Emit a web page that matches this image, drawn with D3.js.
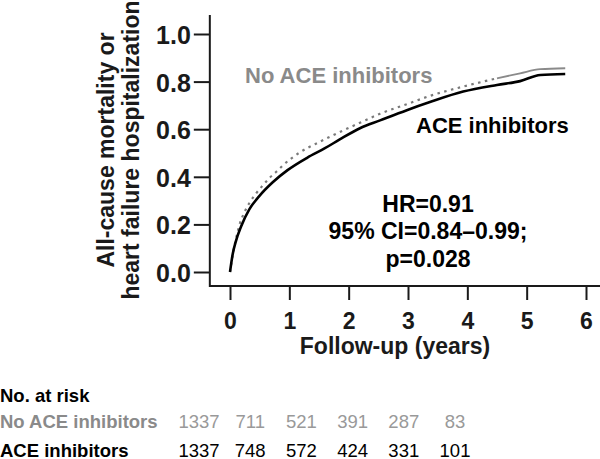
<!DOCTYPE html>
<html>
<head>
<meta charset="utf-8">
<script src="https://cdn.jsdelivr.net/npm/d3@7"></script>
<style>
  html, body { margin: 0; padding: 0; background: #fff; }
  svg { display: block; font-family: "Liberation Sans", Arial, sans-serif; }
</style>
</head>
<body>
<div id="chart"></div>
<script>
// Kaplan-Meier style cumulative incidence
const aceYears = [0, 0.045, 0.1, 0.185, 0.33, 0.49, 0.72, 0.97, 1.3, 1.6, 1.85, 2.19, 2.53, 2.98, 3.37, 3.93, 4.5, 4.89, 5.23, 5.65];
const aceValues = [0, 0.075, 0.13, 0.19, 0.265, 0.318, 0.377, 0.428, 0.48, 0.52, 0.557, 0.604, 0.637, 0.68, 0.714, 0.758, 0.786, 0.802, 0.828, 0.832];

const noAceYears = [0, 0.06, 0.13, 0.17, 0.24, 0.33, 0.44, 0.55, 0.66, 0.78, 0.9, 1.18, 1.52, 1.85, 2.19, 2.53, 2.98, 3.37, 3.93, 4.5, 4.89, 5.23, 5.65];
const noAceValues = [0, 0.09, 0.17, 0.207, 0.249, 0.291, 0.33, 0.363, 0.394, 0.421, 0.45, 0.503, 0.548, 0.588, 0.627, 0.665, 0.705, 0.74, 0.779, 0.814, 0.835, 0.852, 0.856];

const xTicks = [0, 1, 2, 3, 4, 5, 6];
const yTicks = [0, 0.2, 0.4, 0.6, 0.8, 1.0];

// numbers at risk
const riskYears = [0, 1, 2, 3, 4, 5];
const riskNoAce = [1337, 711, 521, 391, 287, 83];
const riskAce = [1337, 748, 572, 424, 331, 101];
const riskRows = ["No ACE inhibitors", "ACE inhibitors"];

const statLines = ["HR=0.91", "95% CI=0.84\u20130.99;", "p=0.028"];

const width = 600, height = 459;
const dark = "#1a1a1a", grey = "#8a8a8a";

const svg = d3.select("#chart").append("svg")
  .attr("width", width)
  .attr("height", height);

const x = d3.scaleLinear().domain([0, 6]).range([230, 586]);
const y = d3.scaleLinear().domain([0, 1]).range([272, 34]);

// axis frame (L shape, offset from the zero ticks)
svg.append("line")
  .attr("x1", x(-0.34)).attr("x2", width)
  .attr("y1", 286).attr("y2", 286)
  .attr("stroke", dark).attr("stroke-width", 2);
svg.append("line")
  .attr("x1", x(-0.34)).attr("x2", x(-0.34))
  .attr("y1", y(1.08)).attr("y2", 287)
  .attr("stroke", dark).attr("stroke-width", 2);

const yAxis = svg.append("g")
  .attr("transform", `translate(${x(-0.34)},0)`)
  .call(d3.axisLeft(y).tickValues(yTicks).tickFormat(d3.format(".1f"))
    .tickSize(16).tickPadding(3).tickSizeOuter(0));
yAxis.select(".domain").remove();
yAxis.selectAll(".tick line").attr("stroke", dark).attr("stroke-width", 2);
yAxis.selectAll(".tick text")
  .attr("fill", dark)
  .attr("dy", "0.38em")
  .style("font-size", "25px")
  .style("font-weight", "bold")
  .style("font-family", "'Liberation Sans', Arial, sans-serif");

const xAxis = svg.append("g")
  .attr("transform", "translate(0,286)")
  .call(d3.axisBottom(x).tickValues(xTicks).tickFormat(d3.format("d"))
    .tickSize(14).tickPadding(13).tickSizeOuter(0));
xAxis.select(".domain").remove();
xAxis.selectAll(".tick line").attr("stroke", dark).attr("stroke-width", 2);
xAxis.selectAll(".tick text")
  .attr("fill", dark)
  .style("font-size", "23px")
  .style("font-weight", "bold")
  .style("font-family", "'Liberation Sans', Arial, sans-serif");

// axis titles
svg.append("text")
  .attr("x", 395).attr("y", 354)
  .attr("text-anchor", "middle")
  .attr("fill", dark)
  .style("font-size", "23px").style("font-weight", "bold")
  .text("Follow-up (years)");

const yTitle = ["All-cause mortality or", "heart failure hospitalization"];
svg.selectAll(".ytitle")
  .data(yTitle)
  .enter().append("text")
  .attr("class", "ytitle")
  .attr("transform", (d, i) => `translate(${113.5 + i * 25},150) rotate(-90)`)
  .attr("text-anchor", "middle")
  .attr("fill", dark)
  .style("font-size", "23px").style("font-weight", "bold")
  .text(d => d);

// curves
const line = d3.line()
  .x(d => x(d[0]))
  .y(d => y(d[1]))
  .curve(d3.curveMonotoneX);

const noAce = noAceYears.map((t, i) => [t, noAceValues[i]]);
const ace = aceYears.map((t, i) => [t, aceValues[i]]);

// grey curve is dotted for most of follow-up, then runs as a thin solid line
svg.append("path")
  .attr("d", line(noAce.filter(d => d[0] <= 4.5)))
  .attr("fill", "none")
  .attr("stroke", "#7a7a7a")
  .attr("stroke-width", 2.2)
  .attr("stroke-dasharray", "2.5,4.5");
svg.append("path")
  .attr("d", line(noAce.filter(d => d[0] >= 4.5)))
  .attr("fill", "none")
  .attr("stroke", "#8a8a8a")
  .attr("stroke-width", 1.8);

svg.append("path")
  .attr("d", line(ace))
  .attr("fill", "none")
  .attr("stroke", "#000")
  .attr("stroke-width", 2.6);

// curve labels
svg.append("text")
  .attr("x", 245).attr("y", 83)
  .attr("fill", grey)
  .style("font-size", "22px").style("font-weight", "bold")
  .text("No ACE inhibitors");
svg.append("text")
  .attr("x", 416).attr("y", 133)
  .attr("fill", "#000")
  .style("font-size", "22px").style("font-weight", "bold")
  .text("ACE inhibitors");

// hazard ratio block
svg.selectAll(".stat")
  .data(statLines)
  .enter().append("text")
  .attr("class", "stat")
  .attr("x", 428)
  .attr("y", (d, i) => 211.5 + i * 27.5)
  .attr("text-anchor", "middle")
  .attr("fill", "#000")
  .style("font-size", "23px").style("font-weight", "bold")
  .text(d => d);

// number at risk table
const col = d3.scalePoint().domain(riskYears).range([199, 455]);
const rowY = [428, 456.5];
const rowColors = [grey, "#000"];
const numColors = ["#999", "#000"];

svg.append("text")
  .attr("x", 0).attr("y", 401.5)
  .attr("fill", "#000")
  .style("font-size", "18.5px").style("font-weight", "bold")
  .text("No. at risk");

riskRows.forEach((label, r) => {
  svg.append("text")
    .attr("x", 0).attr("y", rowY[r])
    .attr("fill", rowColors[r])
    .style("font-size", "18.5px").style("font-weight", "bold")
    .text(label);
  const vals = r === 0 ? riskNoAce : riskAce;
  svg.selectAll(".risk" + r)
    .data(riskYears)
    .enter().append("text")
    .attr("class", "risk" + r)
    .attr("x", d => col(d))
    .attr("y", rowY[r])
    .attr("text-anchor", "middle")
    .attr("fill", numColors[r])
    .style("font-size", "18.5px")
    .text((d, i) => vals[i]);
});
</script>
</body>
</html>
